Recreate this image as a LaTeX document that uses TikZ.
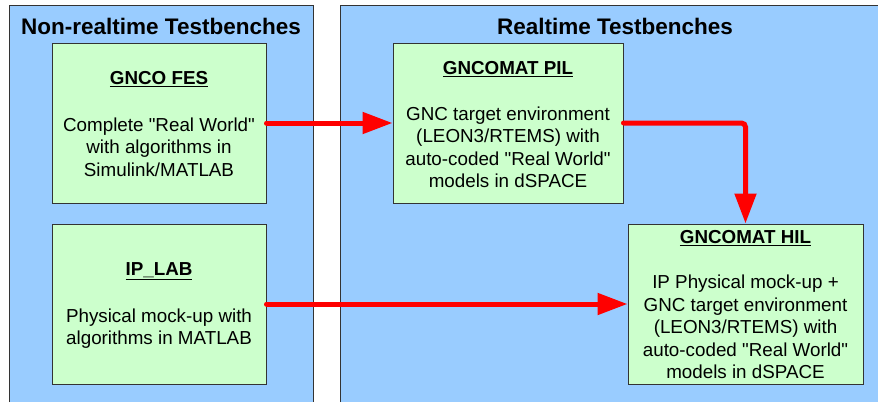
\documentclass[tikz,border=0pt]{standalone}
\usepackage{fontspec}
\setmainfont{Liberation Sans}[Ligatures=TeXOff]
\usetikzlibrary{arrows.meta}
\definecolor{panelblue}{HTML}{99CCFF}
\definecolor{boxgreen}{HTML}{CCFFCC}
\definecolor{edgegray}{HTML}{333333}
\definecolor{arrowred}{HTML}{FF0000}
\begin{document}
\begin{tikzpicture}[x=1pt,y=-1pt,
  panel/.style={fill=panelblue},
  paneledge/.style={draw=edgegray, line width=1pt},
  tbox/.style={draw=edgegray, fill=boxgreen, line width=1pt, inner sep=0pt, minimum height=160pt},
  ptitle/.style={font=\fontsize{22.5}{27}\selectfont\bfseries, inner sep=0pt},
  btitle/.style={font=\fontsize{18.8}{22.5}\selectfont\bfseries, inner sep=0pt},
  btext/.style={font=\fontsize{18.8}{22.5}\selectfont, align=center, inner sep=0pt},
  flow/.style={draw=arrowred, line width=5pt, line cap=round, rounded corners=4pt,
    -{Triangle[length=30pt,width=21pt]}}
]
\useasboundingbox (0,0) rectangle (878,402);
% panels
\fill[panel] (9,5) rectangle (313,402);
\draw[paneledge] (9,402) -- (9,5) -- (313,5) -- (313,402);
\fill[panel] (340,5) rectangle (878,402);
\draw[paneledge] (340,402) -- (340,5) -- (878,5);
\node[ptitle] (t1) at (161,26) {Non-realtime Testbenches};
\node[ptitle] (t2) at (615,26) {Realtime Testbenches};
% boxes
\node[tbox, minimum width=214pt] (fes) at (159,123) {};
\node[tbox, minimum width=214pt] (lab) at (159,304) {};
\node[tbox, minimum width=230pt] (pil) at (508,123) {};
\node[tbox, minimum width=235pt] (hil) at (745.5,304) {};
% texts
\node[btitle] (fesT) at (159,79.5) {\underline{GNCO FES}};
\node[btext] (fesB) at (159,147) {Complete "Real World"\\with algorithms in\\Simulink/MATLAB};
\node[btitle] (labT) at (159,271.5) {\underline{IP\_LAB}};
\node[btext] (labB) at (159,328.5) {Physical mock-up with\\algorithms in MATLAB};
\node[btitle] (pilT) at (508,69.5) {\underline{GNCOMAT PIL}};
\node[btext] (pilB) at (508,147.5) {GNC target environment\\(LEON3/RTEMS) with\\auto-coded "Real World"\\models in dSPACE};
\node[btitle] (hilT) at (745.5,238.5) {\underline{GNCOMAT HIL}};
\node[btext] (hilB) at (745.5,327) {IP Physical mock-up +\\GNC target environment\\(LEON3/RTEMS) with\\auto-coded "Real World"\\models in dSPACE};
% connectors
\draw[flow] (fes.east) -- (pil.west);
\draw[flow] (pil.east) -| (hil.north);
\draw[flow] (lab.east) -- (hil.west);
\end{tikzpicture}
\end{document}
